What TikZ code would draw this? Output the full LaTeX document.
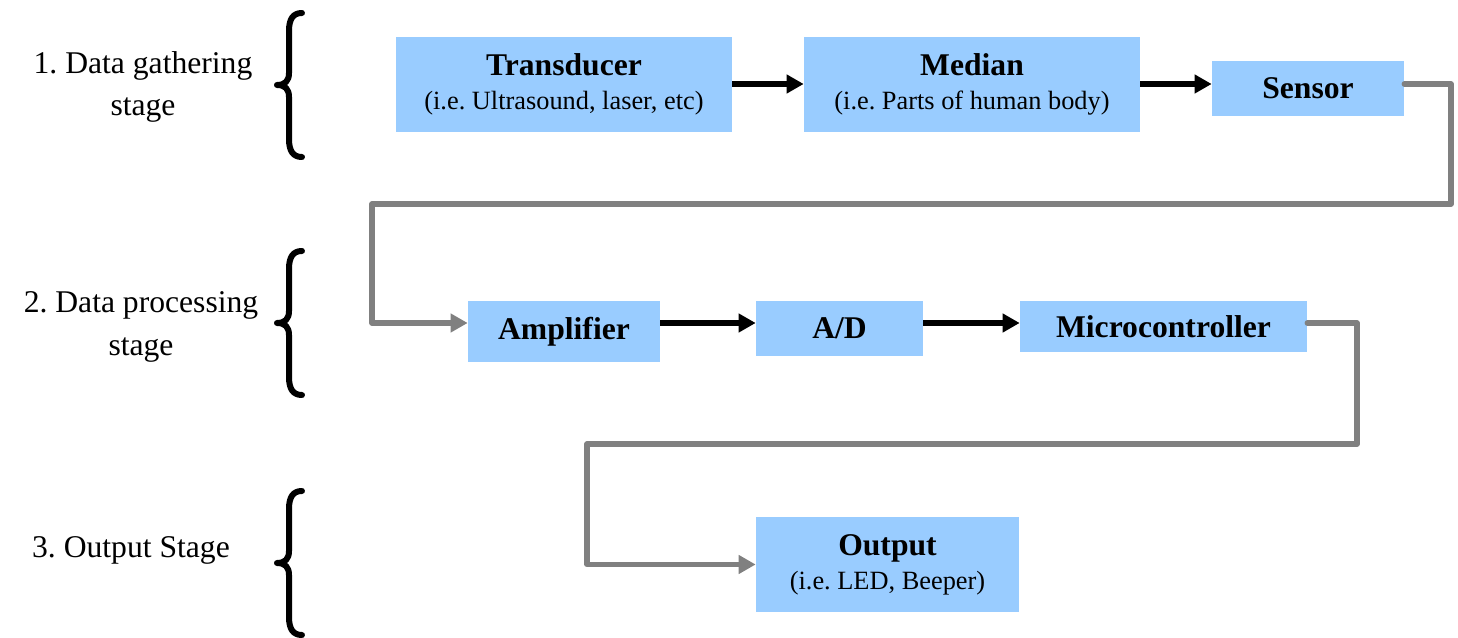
\documentclass[tikz,border=0pt]{standalone}
\usepackage{fontspec}
\setmainfont{Liberation Serif}
\frenchspacing
\usetikzlibrary{arrows.meta}
\definecolor{boxblue}{HTML}{99CCFF}
\definecolor{linkgray}{HTML}{808080}
\def\tipsize{length=0.34cm,width=0.36cm}

\begin{document}
\begin{tikzpicture}[x=0.02cm,y=-0.02cm,line join=round]
    \tikzstyle{block}=[fill=boxblue,inner sep=0pt,align=center,font=\fontsize{18}{19.3}\selectfont\bfseries]
    \tikzstyle{stage label}=[align=center,font=\fontsize{18}{24}\selectfont]
    \tikzstyle{flow}=[-{Triangle[\tipsize]},line width=0.12cm,black]
    \tikzstyle{link}=[-{Triangle[\tipsize]},line width=0.11cm,linkgray,line cap=round]
    \tikzstyle{stage brace}=[line width=0.12cm,line cap=round]

    \useasboundingbox (0,0) rectangle (1458,638);

    % Draw the stage labels and their braces
    \node[stage label] (gather) at (143,87) {1. Data gathering\\stage};
    \node[stage label] (process) at (141,327) {2. Data processing\\stage};
    \node[stage label] (outstage) at (131,550) {3. Output Stage};
    \foreach \top in {13,251,491}
        \draw[stage brace, shift={(0,\top)}] (302,0) .. controls (293,0) and (289,6) .. (289,18)
            -- (289,60) .. controls (289,68) and (285,72) .. (277,72)
            .. controls (285,72) and (289,76) .. (289,84)
            -- (289,126) .. controls (289,138) and (293,144) .. (302,144);

    % Draw the data gathering blocks
    \node[block, minimum width=6.72cm, minimum height=1.9cm] (trans) at (564,84.5)
        {Transducer\\{\fontsize{15}{19.3}\selectfont\mdseries (i.e. Ultrasound, laser, etc)}};
    \node[block, minimum width=6.72cm, minimum height=1.9cm] (median) at (972,84.5)
        {Median\\{\fontsize{15}{19.3}\selectfont\mdseries (i.e. Parts of human body)}};
    \node[block, minimum width=3.84cm, minimum height=1.1cm] (sensor) at (1308,88.5) {Sensor};

    % Draw the data processing blocks
    \node[block, minimum width=3.84cm, minimum height=1.22cm] (amp) at (564,331.5) {Amplifier};
    \node[block, minimum width=3.34cm, minimum height=1.1cm] (ad) at (839.5,328.5) {A/D};
    \node[block, minimum width=5.74cm, minimum height=1.02cm] (micro) at (1163.5,326.5) {Microcontroller};

    % Draw the output block
    \node[block, minimum width=5.26cm, minimum height=1.9cm] (out) at (887.5,564.5)
        {Output\\{\fontsize{15}{19.3}\selectfont\mdseries (i.e. LED, Beeper)}};

    % Arrows inside each stage
    \coordinate (row1) at (0,84);
    \coordinate (row2) at (0,323);
    \draw[flow] (trans.east |- row1) -- (median.west |- row1);
    \draw[flow] (median.east |- row1) -- (sensor.west |- row1);
    \draw[flow] (amp.east |- row2) -- (ad.west |- row2);
    \draw[flow] (ad.east |- row2) -- (micro.west |- row2);

    % Connect one stage to the next
    \coordinate (s-turn) at (1451,204);
    \coordinate (a-turn) at (372,204);
    \draw[link] (sensor.east |- row1) -| (s-turn) -- (a-turn) |- (amp.west |- row2);
    \coordinate (m-turn) at (1357,444);
    \coordinate (o-turn) at (587,444);
    \draw[link] (micro.east |- row2) -| (m-turn) -- (o-turn) |- (out.west);
\end{tikzpicture}
\end{document}
